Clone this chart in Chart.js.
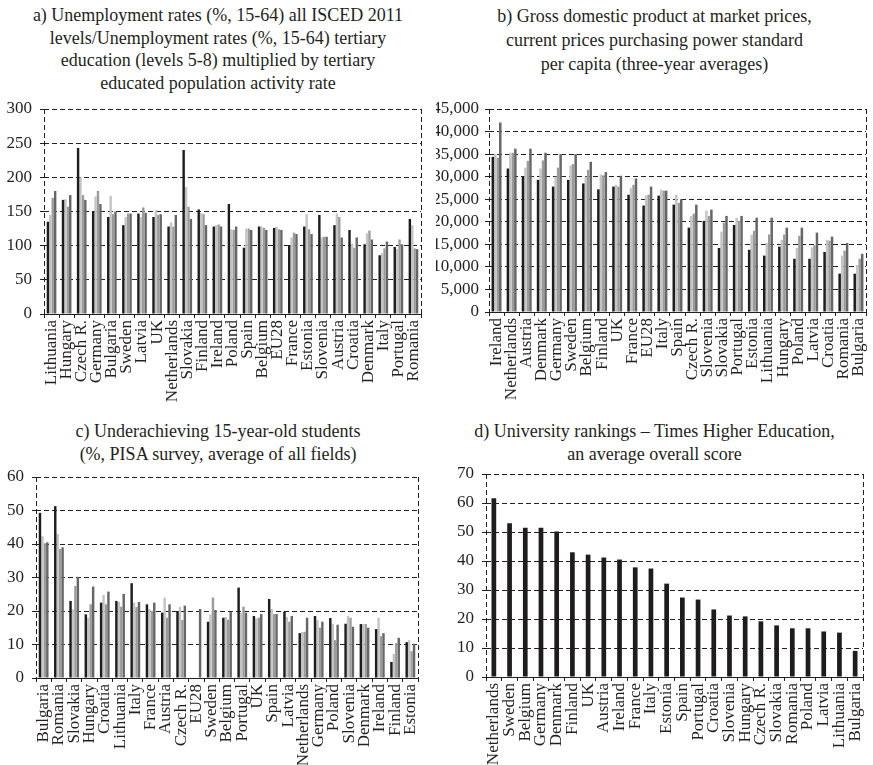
<!DOCTYPE html>
<html>
<head>
<meta charset="utf-8">
<script src="https://cdn.jsdelivr.net/npm/chart.js@4/dist/chart.umd.min.js"></script>
<style>
  html, body { margin:0; padding:0; background:#fff; }
  #wrap { position:relative; width:873px; height:765px; overflow:hidden; background:#fff; }
  canvas { position:absolute; }
  .title { position:absolute; text-align:center; font-family:"Liberation Serif","Times New Roman",serif; font-size:18px; line-height:22.5px; color:#231f20; white-space:nowrap; }
</style>
</head>
<body>
<div id="wrap">
  <div class="title" style="left:0;top:4px;width:436px;">a) Unemployment rates (%, 15-64) all ISCED 2011<br>levels/Unemployment rates (%, 15-64) tertiary<br>education (levels 5-8) multiplied by tertiary<br>educated population activity rate</div>
  <div class="title" style="left:436px;top:4px;width:437px;line-height:24px;">b) Gross domestic product at market prices,<br>current prices purchasing power standard<br>per capita (three-year averages)</div>
  <div class="title" style="left:0;top:420px;width:436px;">c) Underachieving 15-year-old students<br>(%, PISA survey, average of all fields)</div>
  <div class="title" style="left:436px;top:420px;width:437px;">d) University rankings – Times Higher Education,<br>an average overall score</div>
  <canvas id="ca" width="436" height="310" style="left:0;top:100px;"></canvas>
  <canvas id="cb" width="437" height="310" style="left:436px;top:100px;"></canvas>
  <canvas id="cc" width="436" height="297" style="left:0;top:468px;"></canvas>
  <canvas id="cd" width="437" height="300" style="left:436px;top:465px;"></canvas>
</div>
<script>
// ---------- Panel a ----------
const aCategories = ["Lithuania","Hungary","Czech R.","Germany","Bulgaria","Sweden","Latvia","UK","Netherlands","Slovakia","Finland","Ireland","Poland","Spain","Belgium","EU28","France","Estonia","Slovenia","Austria","Croatia","Denmark","Italy","Portugal","Romania"];
const aSeries1 = [135,167,243,150,142,130,147,142,128,240,153,128,161,97,128,126,101,128,145,130,123,102,86,98,139];
const aSeries2 = [145,168,200,172,173,142,142,152,134,186,148,130,124,125,128,128,112,146,112,147,103,118,89,95,130];
const aSeries3 = [170,157,174,180,146,147,156,145,128,157,146,131,123,125,126,124,119,124,113,142,97,122,96,109,96];
const aSeries4 = [180,174,167,161,150,147,148,146,145,139,130,128,128,123,123,123,117,117,113,112,112,109,106,102,95];
const aTicks = [0,50,100,150,200,250,300];

// ---------- Panel b ----------
const bCategories = ["Ireland","Netherlands","Austria","Denmark","Germany","Sweden","Belgium","Finland","UK","France","EU28","Italy","Spain","Czech R.","Slovenia","Slovakia","Portugal","Estonia","Lithuania","Hungary","Poland","Latvia","Croatia","Romania","Bulgaria"];
const bSeries1 = [34400,31800,30000,29300,27800,29300,28500,27200,27800,26000,23600,25800,23800,18700,20200,14200,19300,13800,12500,14500,11800,11800,13300,8500,8500];
const bSeries2 = [35000,35300,32000,31800,30000,32500,30000,30500,28200,27500,25800,27100,26000,21300,22500,17800,20900,17100,15300,16000,14200,14300,16000,12500,10400];
const bSeries3 = [34200,35300,33500,33600,32000,32800,31500,30300,27800,28200,26000,26900,24200,21800,21300,19800,20200,18000,17200,17200,16900,14800,15800,13600,11800];
const bSeries4 = [42000,36200,36200,35300,35000,35000,33300,31000,30200,29600,27800,26900,25000,23800,22700,21300,21300,20900,20900,18700,18700,17600,16700,15300,12900];
const bTicks = [0,5000,10000,15000,20000,25000,30000,35000,40000,45000];

// ---------- Panel c ----------
const cCategories = ["Bulgaria","Romania","Slovakia","Hungary","Croatia","Lithuania","Italy","France","Austria","Czech R.","EU28","Sweden","Belgium","Portugal","UK","Spain","Latvia","Netherlands","Germany","Poland","Slovenia","Denmark","Ireland","Finland","Estonia"];
const cSeries1 = [49.3,51.3,23.0,19.0,22.5,23.0,28.3,22.0,19.5,20.0,null,16.8,18.0,27.0,18.5,23.6,19.8,13.4,18.5,17.9,16.2,16.1,14.6,4.8,10.7];
const cSeries2 = [42.3,43.0,20.5,18.0,24.8,22.7,22.5,20.6,24.0,21.2,null,19.0,18.2,19.5,17.8,20.6,18.2,13.7,17.3,16.2,18.5,16.1,18.0,7.2,11.3];
const cSeries3 = [40.2,38.5,27.5,22.0,22.0,21.3,21.2,20.0,18.0,17.3,null,24.0,17.4,21.3,18.0,19.1,16.8,13.8,15.0,11.3,18.0,16.1,12.5,10.4,8.0];
const cSeries4 = [40.5,39.0,30.2,27.3,25.8,25.1,22.7,22.5,22.0,21.6,20.6,20.3,19.8,19.5,19.1,19.1,18.5,18.0,16.8,15.9,15.3,15.0,13.4,12.0,10.2];
const cTicks = [0,10,20,30,40,50,60];

// ---------- Panel d ----------
const dCategories = ["Netherlands","Sweden","Belgium","Germany","Denmark","Finland","UK","Austria","Ireland","France","Italy","Estonia","Spain","Portugal","Croatia","Slovenia","Hungary","Czech R.","Slovakia","Romania","Poland","Latvia","Lithuania","Bulgaria"];
const dScores = [61.6,53.0,51.5,51.5,50.2,43.0,42.2,41.2,40.5,37.8,37.4,32.2,27.4,26.7,23.3,21.2,20.9,19.2,17.8,16.8,16.8,15.7,15.3,9.0];
const dTicks = [0,10,20,30,40,50,60,70];

const seriesColors = ['#1f1c1d','#c4c4c4','#9b9b9b','#666666'];
const FONT = '"Liberation Serif","Times New Roman",serif';
const INK = '#231f20';
const DASH = [5,3];

// dashed left and right frame lines of the plot area
const sideFrame = {
  id:'sideFrame',
  afterDraw(chart){
    const a = chart.chartArea, ctx = chart.ctx;
    ctx.save();
    ctx.strokeStyle = INK; ctx.lineWidth = 1; ctx.setLineDash(DASH);
    [a.left, a.right].forEach(x=>{
      const px = Math.round(x)+0.5;
      ctx.beginPath(); ctx.moveTo(px, a.top); ctx.lineTo(px, a.bottom); ctx.stroke();
    });
    ctx.restore();
  }
};

function build(id, cats, seriesList, ticks, opts){
  const datasets = seriesList.map((d,i)=>({
    data:d,
    backgroundColor: seriesList.length===1 ? seriesColors[0] : seriesColors[i],
    borderWidth:0,
    categoryPercentage: opts.catPct,
    barPercentage: opts.barPct
  }));
  const tickMin = ticks[0], tickMax = ticks[ticks.length-1], step = ticks[1]-ticks[0];
  new Chart(document.getElementById(id), {
    type:'bar',
    data:{ labels:cats, datasets },
    options:{
      responsive:false, animation:false, devicePixelRatio:1,
      layout:{ padding:{ top:opts.top, right:opts.right, left:0, bottom:0 } },
      plugins:{ legend:{display:false}, tooltip:{enabled:false}, title:{display:false} },
      scales:{
        x:{
          grid:{ display:true, drawOnChartArea:false, drawTicks:true, tickLength:4, color:INK, offset:true },
          border:{ display:true, color:INK, width:1 },
          ticks:{ autoSkip:false, minRotation:90, maxRotation:90, color:INK, padding:2, font:{family:FONT, size:17} },
          afterFit(s){ s.height = opts.xh; s.paddingLeft = 0; s.paddingRight = 0; }
        },
        y:{
          min:tickMin, max:tickMax,
          grid:{ color:INK, lineWidth:1, tickLength:4, tickColor:INK, tickBorderDash:[] },
          border:{ display:false, dash:DASH },
          ticks:{ stepSize:step, autoSkip:false, color:INK, padding:opts.ypad, font:{family:FONT, size:17},
                  callback:(v)=> opts.comma ? v.toLocaleString('en-US') : v },
          afterFit(s){ s.width = opts.yw; s.paddingTop = 0; s.paddingBottom = 0; }
        }
      }
    },
    plugins:[sideFrame]
  });
}

build('ca', aCategories, [aSeries1,aSeries2,aSeries3,aSeries4], aTicks, {top:9,right:15,yw:44,xh:96,ypad:8,catPct:0.64,barPct:1});
build('cb', bCategories, [bSeries1,bSeries2,bSeries3,bSeries4], bTicks, {top:9,right:7,yw:53,xh:98,ypad:6,catPct:0.66,barPct:1,comma:true});
build('cc', cCategories, [cSeries1,cSeries2,cSeries3,cSeries4], cTicks, {top:9,right:18,yw:36,xh:87,ypad:8,catPct:0.64,barPct:1});
build('cd', dCategories, [dScores], dTicks, {top:9,right:10,yw:50,xh:88,ypad:8,catPct:0.3,barPct:1});
</script>
</body>
</html>
